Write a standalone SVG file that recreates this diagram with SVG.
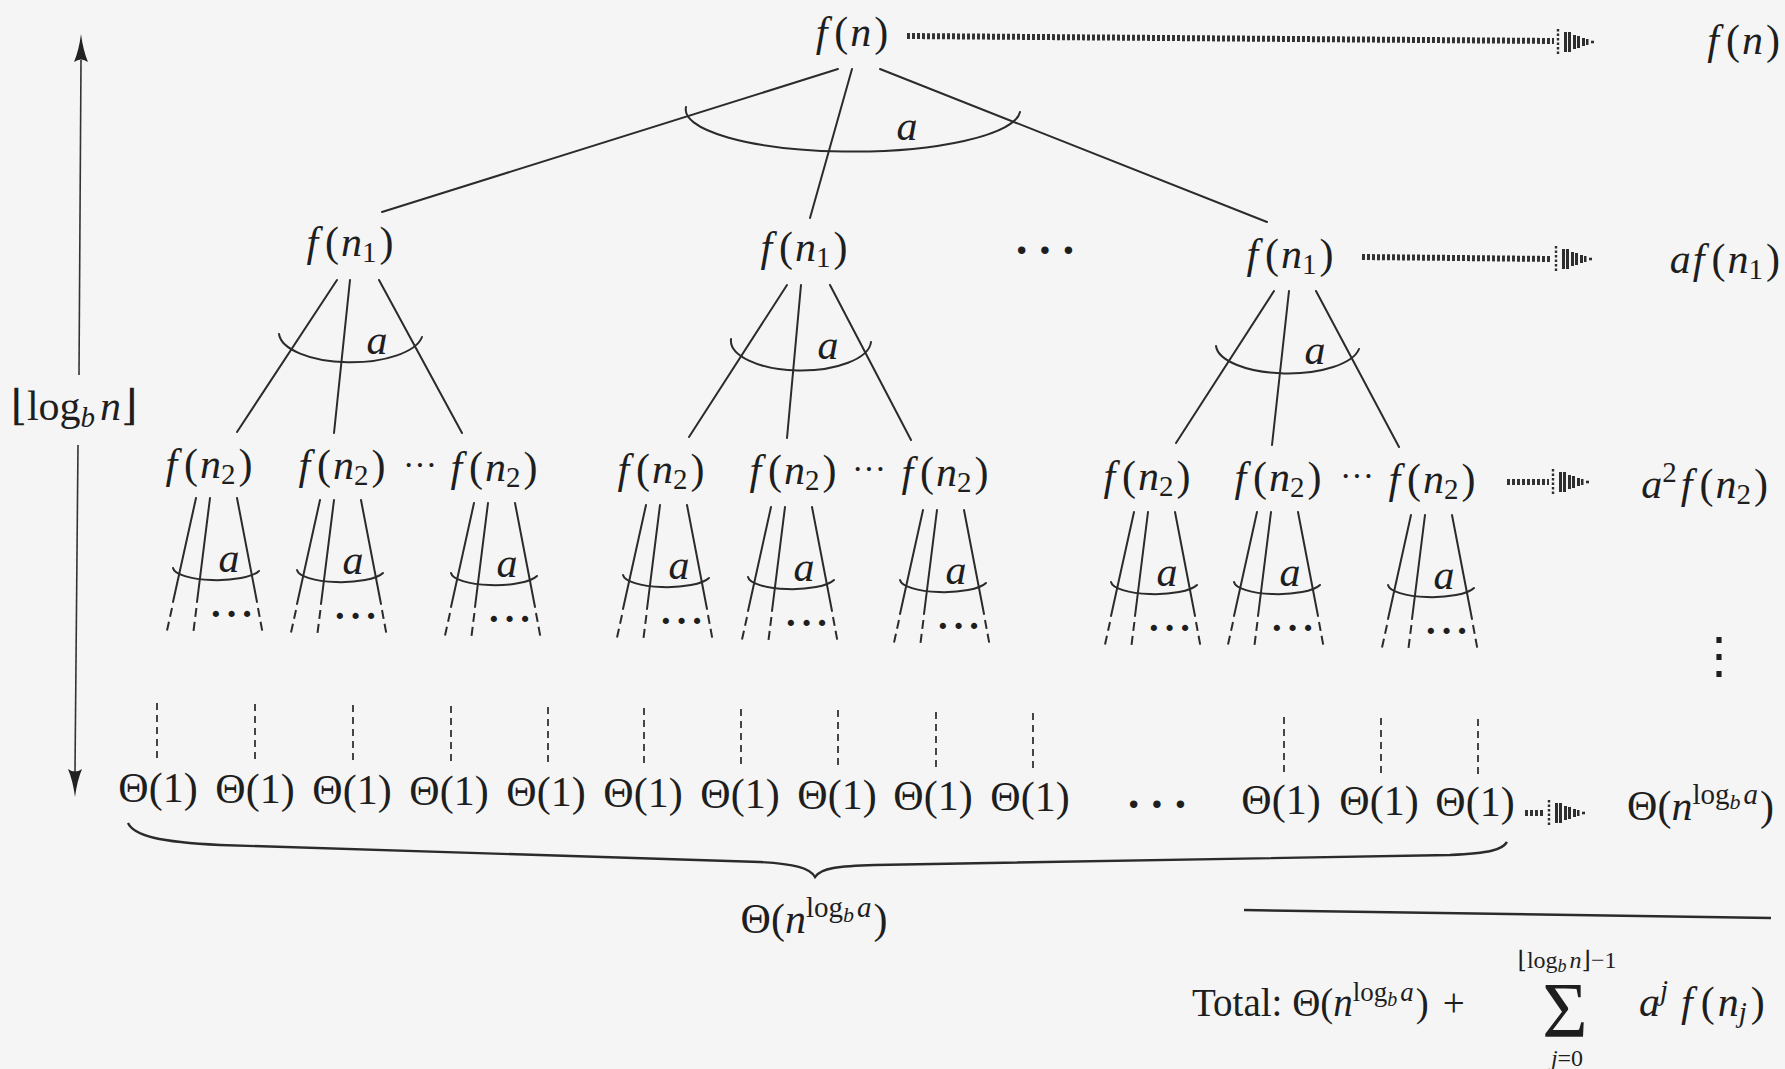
<svg xmlns="http://www.w3.org/2000/svg" width="1785" height="1069" viewBox="0 0 1785 1069">
<defs>
<style>
.m{font-family:"Liberation Serif","DejaVu Serif",serif;font-size:42px;fill:#1e1e1e}
.t{font-family:"Liberation Serif","DejaVu Serif",serif;font-size:39px;fill:#1e1e1e}
.it{font-style:italic}
.sb{font-size:29px}
.ss{font-size:22px}
.dot{font-family:"Liberation Serif","DejaVu Serif",serif;font-weight:bold;fill:#1e1e1e}
.ln{stroke:#2b2b2b;stroke-width:2;fill:none;stroke-linecap:round}
.dl{stroke:#2b2b2b;stroke-width:2;fill:none;stroke-dasharray:9 5}
.vd{stroke:#333;stroke-width:1.8;stroke-dasharray:7 5;fill:none}
.da{stroke:#333;stroke-width:6;stroke-dasharray:3 2;fill:none}
.ax{stroke:#333;stroke-width:1.6;fill:none}
</style>
<!-- dotted "maps to" arrowhead, tip at origin -->
<g id="dh" fill="#2e2e2e">
<path d="M-38,-13 V13" stroke="#2e2e2e" stroke-width="2.4" stroke-dasharray="2.5 2" fill="none"/>
<rect x="-32" y="-10" width="3" height="20"/>
<rect x="-28" y="-10" width="3" height="20"/>
<rect x="-23" y="-7" width="3" height="14"/>
<rect x="-19" y="-6" width="3" height="12"/>
<rect x="-14" y="-4" width="3" height="8"/>
<rect x="-10" y="-3" width="2.5" height="6"/>
<rect x="-5" y="-1.3" width="3" height="2.6"/>
</g>
<!-- solid arrowhead pointing up, tip at origin -->
<path id="ah" d="M0,0 Q-2,16 -7,28 Q0,23 7,28 Q2,16 0,0Z" fill="#222"/>
</defs>

<rect width="1785" height="1069" fill="#f5f5f5"/>

<!-- height axis -->
<g id="height-axis">
<path class="ax" d="M81,60 L79,375"/>
<use href="#ah" x="81" y="34"/>
<path class="ax" d="M78,445 L75,772"/>
<use href="#ah" transform="translate(75,797) rotate(180)"/>
<text class="m" x="74" y="420" text-anchor="middle">⌊log<tspan class="sb it" dy="7">b</tspan><tspan class="it" dx="5" dy="-7">n</tspan>⌋</text>
</g>

<!-- connectors: tree edges, fan arcs and per-level arrows -->
<g id="connectors">
<!-- level 0 -> 1 -->
<path class="ln" d="M838,69 L382,212 M852,69 L810,218 M880,69 L1267,222"/>
<path class="ln" d="M686,107 A167 42 0 0 0 1020,112"/>
<text class="m it" x="907" y="140" text-anchor="middle">a</text>

<!-- level 1 -> 2 -->
<path class="ln" d="M337,280 L237,432 M350,280 L334,433 M379,280 L462,433"/>
<path class="ln" d="M279,334 A72 30 0 0 0 422,337"/>
<text class="m it" x="377" y="354" text-anchor="middle">a</text>
<path class="ln" d="M787,285 L689,437 M801,285 L787,438 M830,285 L911,440"/>
<path class="ln" d="M731,339 A70 30 0 0 0 871,342"/>
<text class="m it" x="828" y="359" text-anchor="middle">a</text>
<path class="ln" d="M1274,291 L1176,443 M1289,291 L1272,445 M1316,291 L1399,447"/>
<path class="ln" d="M1216,346 A72 29 0 0 0 1359,349"/>
<text class="m it" x="1315" y="364" text-anchor="middle">a</text>

<!-- level 2 fans (continuing downward) -->
<g transform="translate(210,498)">
<path class="ln" d="M-14,0 L-37,104 M0,0 L-13,104 M27,0 L47,104"/>
<path class="dl" d="M-38,110 L-44,137 M-13.6,110 L-17,137 M48,110 L53,137"/>
<path class="ln" d="M-37,70 A44 13 0 0 0 49,73"/>
<text class="m it" x="19" y="74" text-anchor="middle">a</text>
<text class="dot" x="23" y="129" font-size="38" letter-spacing="3" text-anchor="middle">···</text>
</g>
<g transform="translate(334,500)">
<path class="ln" d="M-14,0 L-37,104 M0,0 L-13,104 M27,0 L47,104"/>
<path class="dl" d="M-38,110 L-44,137 M-13.6,110 L-17,137 M48,110 L53,137"/>
<path class="ln" d="M-37,70 A44 13 0 0 0 49,73"/>
<text class="m it" x="19" y="74" text-anchor="middle">a</text>
<text class="dot" x="23" y="129" font-size="38" letter-spacing="3" text-anchor="middle">···</text>
</g>
<g transform="translate(488,503)">
<path class="ln" d="M-14,0 L-37,104 M0,0 L-13,104 M27,0 L47,104"/>
<path class="dl" d="M-38,110 L-44,137 M-13.6,110 L-17,137 M48,110 L53,137"/>
<path class="ln" d="M-37,70 A44 13 0 0 0 49,73"/>
<text class="m it" x="19" y="74" text-anchor="middle">a</text>
<text class="dot" x="23" y="129" font-size="38" letter-spacing="3" text-anchor="middle">···</text>
</g>
<g transform="translate(660,505)">
<path class="ln" d="M-14,0 L-37,104 M0,0 L-13,104 M27,0 L47,104"/>
<path class="dl" d="M-38,110 L-44,137 M-13.6,110 L-17,137 M48,110 L53,137"/>
<path class="ln" d="M-37,70 A44 13 0 0 0 49,73"/>
<text class="m it" x="19" y="74" text-anchor="middle">a</text>
<text class="dot" x="23" y="129" font-size="38" letter-spacing="3" text-anchor="middle">···</text>
</g>
<g transform="translate(785,507)">
<path class="ln" d="M-14,0 L-37,104 M0,0 L-13,104 M27,0 L47,104"/>
<path class="dl" d="M-38,110 L-44,137 M-13.6,110 L-17,137 M48,110 L53,137"/>
<path class="ln" d="M-37,70 A44 13 0 0 0 49,73"/>
<text class="m it" x="19" y="74" text-anchor="middle">a</text>
<text class="dot" x="23" y="129" font-size="38" letter-spacing="3" text-anchor="middle">···</text>
</g>
<g transform="translate(937,510)">
<path class="ln" d="M-14,0 L-37,104 M0,0 L-13,104 M27,0 L47,104"/>
<path class="dl" d="M-38,110 L-44,137 M-13.6,110 L-17,137 M48,110 L53,137"/>
<path class="ln" d="M-37,70 A44 13 0 0 0 49,73"/>
<text class="m it" x="19" y="74" text-anchor="middle">a</text>
<text class="dot" x="23" y="129" font-size="38" letter-spacing="3" text-anchor="middle">···</text>
</g>
<g transform="translate(1148,512)">
<path class="ln" d="M-14,0 L-37,104 M0,0 L-13,104 M27,0 L47,104"/>
<path class="dl" d="M-38,110 L-44,137 M-13.6,110 L-17,137 M48,110 L53,137"/>
<path class="ln" d="M-37,70 A44 13 0 0 0 49,73"/>
<text class="m it" x="19" y="74" text-anchor="middle">a</text>
<text class="dot" x="23" y="129" font-size="38" letter-spacing="3" text-anchor="middle">···</text>
</g>
<g transform="translate(1271,512)">
<path class="ln" d="M-14,0 L-37,104 M0,0 L-13,104 M27,0 L47,104"/>
<path class="dl" d="M-38,110 L-44,137 M-13.6,110 L-17,137 M48,110 L53,137"/>
<path class="ln" d="M-37,70 A44 13 0 0 0 49,73"/>
<text class="m it" x="19" y="74" text-anchor="middle">a</text>
<text class="dot" x="23" y="129" font-size="38" letter-spacing="3" text-anchor="middle">···</text>
</g>
<g transform="translate(1425,515)">
<path class="ln" d="M-14,0 L-37,104 M0,0 L-13,104 M27,0 L47,104"/>
<path class="dl" d="M-38,110 L-44,137 M-13.6,110 L-17,137 M48,110 L53,137"/>
<path class="ln" d="M-37,70 A44 13 0 0 0 49,73"/>
<text class="m it" x="19" y="74" text-anchor="middle">a</text>
<text class="dot" x="23" y="129" font-size="38" letter-spacing="3" text-anchor="middle">···</text>
</g>

<!-- dashed descents to the leaves -->
<path class="vd" d="M157,703 V760 M255,704 V761 M353,705 V762 M451,706 V763 M548,707 V764 M644,708 V765 M741,709 V766 M838,710 V767 M936,712 V768 M1033,713 V769 M1284,717 V773 M1381,718 V774 M1478,719 V775"/>

<!-- per-level cost arrows -->
<path class="da" d="M907,36 L1554,41"/>
<use href="#dh" x="1596" y="42"/>
<path class="da" d="M1362,257 L1552,259"/>
<use href="#dh" x="1594" y="259"/>
<path class="da" d="M1507,482 L1549,482"/>
<use href="#dh" x="1591" y="482"/>
<path class="da" d="M1525,813 L1545,813"/>
<use href="#dh" x="1587" y="813"/>
</g>

<!-- level 0 -->
<g id="n0"><text class="m" x="852" y="46" text-anchor="middle"><tspan class="it">f</tspan><tspan dx="7">(</tspan><tspan class="it" dx="2">n</tspan><tspan dx="3">)</tspan></text></g>

<!-- level 1 -->
<g id="n1a"><text class="m" x="350" y="256" text-anchor="middle"><tspan class="it">f</tspan><tspan dx="7">(</tspan><tspan class="it" dx="2">n</tspan><tspan class="sb" dy="6">1</tspan><tspan dx="3" dy="-6">)</tspan></text></g>
<g id="n1b"><text class="m" x="804" y="261" text-anchor="middle"><tspan class="it">f</tspan><tspan dx="7">(</tspan><tspan class="it" dx="2">n</tspan><tspan class="sb" dy="6">1</tspan><tspan dx="3" dy="-6">)</tspan></text></g>
<g id="n1c"><text class="m" x="1290" y="268" text-anchor="middle"><tspan class="it">f</tspan><tspan dx="7">(</tspan><tspan class="it" dx="2">n</tspan><tspan class="sb" dy="6">1</tspan><tspan dx="3" dy="-6">)</tspan></text></g>
<g id="n1-more"><text class="dot" x="1049" y="266" font-size="46" letter-spacing="8" text-anchor="middle">···</text></g>

<!-- level 2 -->
<g id="n2a"><text class="m" x="209" y="478" text-anchor="middle"><tspan class="it">f</tspan><tspan dx="7">(</tspan><tspan class="it" dx="2">n</tspan><tspan class="sb" dy="6">2</tspan><tspan dx="3" dy="-6">)</tspan></text></g>
<g id="n2b"><text class="m" x="342" y="479" text-anchor="middle"><tspan class="it">f</tspan><tspan dx="7">(</tspan><tspan class="it" dx="2">n</tspan><tspan class="sb" dy="6">2</tspan><tspan dx="3" dy="-6">)</tspan></text></g>
<g id="n2ab-more"><text class="m" x="420" y="476" style="font-size:34px" text-anchor="middle">···</text></g>
<g id="n2c"><text class="m" x="494" y="481" text-anchor="middle"><tspan class="it">f</tspan><tspan dx="7">(</tspan><tspan class="it" dx="2">n</tspan><tspan class="sb" dy="6">2</tspan><tspan dx="3" dy="-6">)</tspan></text></g>
<g id="n2d"><text class="m" x="661" y="483" text-anchor="middle"><tspan class="it">f</tspan><tspan dx="7">(</tspan><tspan class="it" dx="2">n</tspan><tspan class="sb" dy="6">2</tspan><tspan dx="3" dy="-6">)</tspan></text></g>
<g id="n2e"><text class="m" x="793" y="484" text-anchor="middle"><tspan class="it">f</tspan><tspan dx="7">(</tspan><tspan class="it" dx="2">n</tspan><tspan class="sb" dy="6">2</tspan><tspan dx="3" dy="-6">)</tspan></text></g>
<g id="n2de-more"><text class="m" x="869" y="480" style="font-size:34px" text-anchor="middle">···</text></g>
<g id="n2f"><text class="m" x="945" y="486" text-anchor="middle"><tspan class="it">f</tspan><tspan dx="7">(</tspan><tspan class="it" dx="2">n</tspan><tspan class="sb" dy="6">2</tspan><tspan dx="3" dy="-6">)</tspan></text></g>
<g id="n2g"><text class="m" x="1147" y="490" text-anchor="middle"><tspan class="it">f</tspan><tspan dx="7">(</tspan><tspan class="it" dx="2">n</tspan><tspan class="sb" dy="6">2</tspan><tspan dx="3" dy="-6">)</tspan></text></g>
<g id="n2h"><text class="m" x="1278" y="491" text-anchor="middle"><tspan class="it">f</tspan><tspan dx="7">(</tspan><tspan class="it" dx="2">n</tspan><tspan class="sb" dy="6">2</tspan><tspan dx="3" dy="-6">)</tspan></text></g>
<g id="n2gh-more"><text class="m" x="1357" y="487" style="font-size:34px" text-anchor="middle">···</text></g>
<g id="n2i"><text class="m" x="1432" y="493" text-anchor="middle"><tspan class="it">f</tspan><tspan dx="7">(</tspan><tspan class="it" dx="2">n</tspan><tspan class="sb" dy="6">2</tspan><tspan dx="3" dy="-6">)</tspan></text></g>

<!-- leaves -->
<g id="leaves">
<text class="m" x="158" y="802" text-anchor="middle">Θ(1)</text>
<text class="m" x="255" y="803" text-anchor="middle">Θ(1)</text>
<text class="m" x="352" y="804" text-anchor="middle">Θ(1)</text>
<text class="m" x="449" y="805" text-anchor="middle">Θ(1)</text>
<text class="m" x="546" y="806" text-anchor="middle">Θ(1)</text>
<text class="m" x="643" y="807" text-anchor="middle">Θ(1)</text>
<text class="m" x="740" y="808" text-anchor="middle">Θ(1)</text>
<text class="m" x="837" y="809" text-anchor="middle">Θ(1)</text>
<text class="m" x="933" y="810" text-anchor="middle">Θ(1)</text>
<text class="m" x="1030" y="811" text-anchor="middle">Θ(1)</text>
<text class="dot" x="1161" y="820" font-size="46" letter-spacing="8" text-anchor="middle">···</text>
<text class="m" x="1281" y="814" text-anchor="middle">Θ(1)</text>
<text class="m" x="1379" y="815" text-anchor="middle">Θ(1)</text>
<text class="m" x="1475" y="816" text-anchor="middle">Θ(1)</text>
</g>

<!-- brace under the leaves -->
<g id="leaf-brace">
<path d="M128,823 C134,836 160,842 220,845 L760,862 C795,864 810,868 815,877 C821,868 838,866 875,865 L1450,855 C1490,853 1502,850 1507,842" stroke="#2b2b2b" stroke-width="2.4" fill="none"/>
<text class="m" x="814" y="933" text-anchor="middle">Θ(<tspan class="it">n</tspan><tspan class="sb" dy="-16">log</tspan><tspan class="ss it" dy="5">b</tspan><tspan class="sb it" dx="3" dy="-5">a</tspan><tspan dx="2" dy="16">)</tspan></text>
</g>

<!-- per-level costs -->
<g id="costs">
<text class="m" x="1780" y="54" text-anchor="end"><tspan class="it">f</tspan><tspan dx="7">(</tspan><tspan class="it" dx="2">n</tspan><tspan dx="3">)</tspan></text>
<text class="m" x="1780" y="273" text-anchor="end"><tspan class="it">a</tspan><tspan class="it" dx="2">f</tspan><tspan dx="7">(</tspan><tspan class="it" dx="2">n</tspan><tspan class="sb" dy="6">1</tspan><tspan dx="3" dy="-6">)</tspan></text>
<text class="m" x="1768" y="498" text-anchor="end"><tspan class="it">a</tspan><tspan class="sb" dy="-16">2</tspan><tspan class="it" dx="4" dy="16">f</tspan><tspan dx="7">(</tspan><tspan class="it" dx="2">n</tspan><tspan class="sb" dy="6">2</tspan><tspan dx="3" dy="-6">)</tspan></text>
<text x="1719" y="672" font-family="'DejaVu Serif',serif" font-size="50" fill="#1e1e1e" text-anchor="middle">⋮</text>
<text class="m" x="1774" y="820" text-anchor="end">Θ(<tspan class="it">n</tspan><tspan class="sb" dy="-16">log</tspan><tspan class="ss it" dy="5">b</tspan><tspan class="sb it" dx="3" dy="-5">a</tspan><tspan dx="2" dy="16">)</tspan></text>
</g>

<!-- total -->
<g id="total">
<path d="M1244,910 L1771,918" stroke="#2b2b2b" stroke-width="2.5"/>
<text class="t" x="1192" y="1016">Total: Θ(<tspan class="it">n</tspan><tspan font-size="27" dy="-15">log</tspan><tspan class="it" font-size="20" dy="5">b</tspan><tspan class="it" font-size="27" dx="3" dy="-5">a</tspan><tspan dx="2" dy="15">)</tspan><tspan dx="14">+</tspan></text>
<text class="t" x="1565" y="1036" style="font-size:78px" text-anchor="middle">Σ</text>
<text class="t" x="1567" y="968" style="font-size:24px" text-anchor="middle">⌊log<tspan font-size="18" class="it" dy="4">b</tspan><tspan class="it" dx="3" dy="-4">n</tspan>⌋−1</text>
<text class="t" x="1567" y="1066" style="font-size:24px" text-anchor="middle"><tspan class="it">j</tspan>=0</text>
<text class="m" x="1639" y="1016"><tspan class="it">a</tspan><tspan class="it" font-size="29" dy="-16">j</tspan><tspan class="it" dx="13" dy="16">f</tspan><tspan dx="8">(</tspan><tspan class="it" dx="3">n</tspan><tspan class="it" font-size="29" dy="6">j</tspan><tspan dx="4" dy="-6">)</tspan></text>
</g>
</svg>
